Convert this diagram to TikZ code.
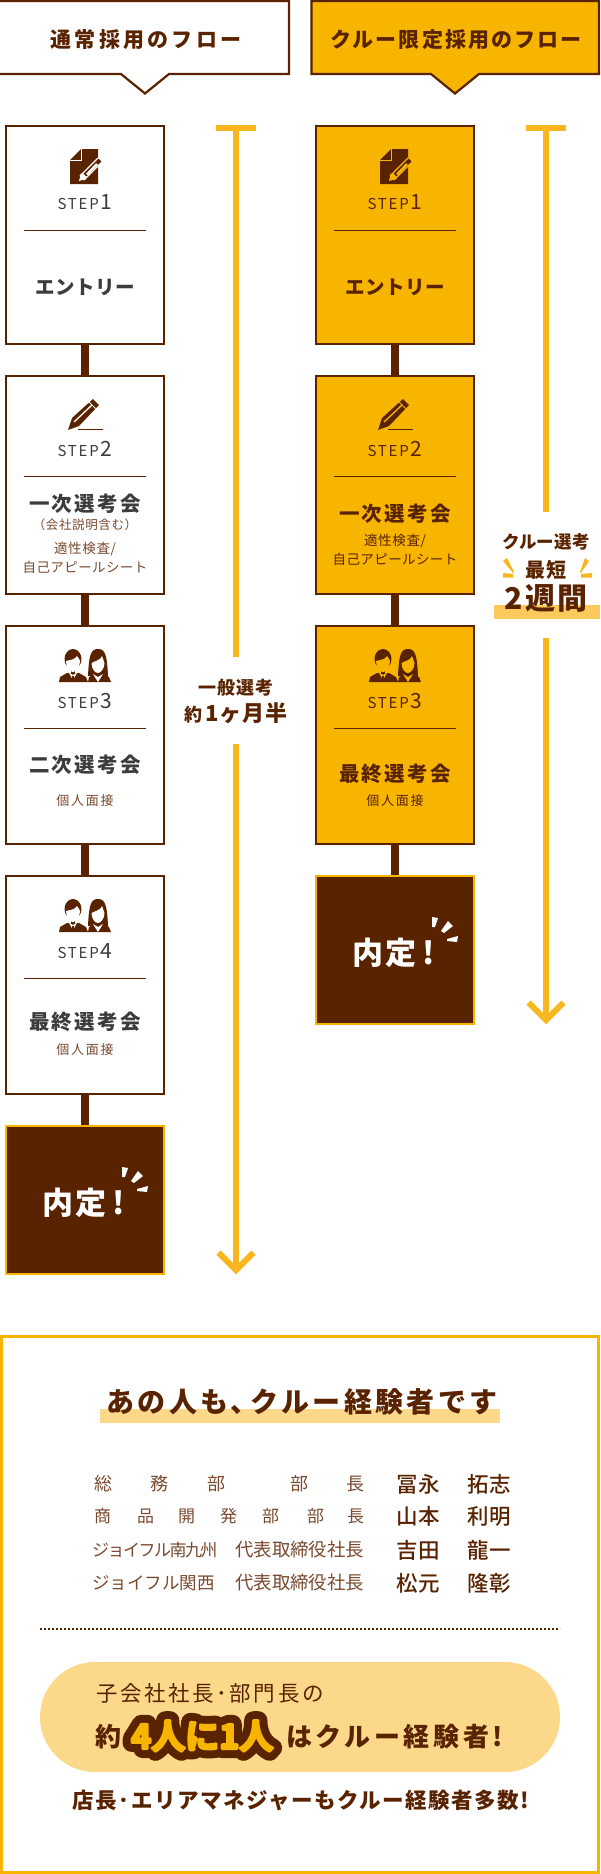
\documentclass[tikz,border=0pt]{standalone}
\usepackage{fontspec}
\setmainfont{Noto Sans CJK JP}
\newfontfamily\med{Noto Sans CJK JP Medium}
\newfontfamily\outl[FakeBold=55]{Noto Sans CJK JP Bold}
\newfontfamily\hvy[FakeBold=8]{Noto Sans CJK JP Bold}
\definecolor{brn}{HTML}{5A2300}
\definecolor{org}{HTML}{F7B500}
\definecolor{arw}{HTML}{FAB61E}
\definecolor{pale}{HTML}{FBD88A}
\definecolor{mid}{HTML}{FCC95B}
\definecolor{gry}{HTML}{3C3C3C}
\definecolor{sub}{HTML}{7A4A30}
\newcommand\tx[3]{{\fontsize{#1}{#1}\selectfont\addfontfeature{LetterSpace=#2}#3}}
\newcommand\stp[1]{\tx{15}{12}{STEP}\hspace{2pt}\tx{21}{0}{#1}}
\newcommand\docicon[3]{\begin{scope}[shift={(#1,#2)}]
 \fill[brn] (0,11)--(11,0)--(28,0)--(28,35)--(0,35)--cycle;
 \draw[#3,line width=1] (-.5,11.5)--(11.5,11.5)--(11.5,-.5);
 \draw[#3,line width=7] (12,29)--(30,11);
 \draw[brn,line width=4.2] (15,26)--(30,11);
 \fill[#3] (11,24)--(16,30)--(9,32)--cycle;
 \draw[#3,line width=2.4] (17,25.5)--(27,15);
\end{scope}}
\newcommand\penicon[3]{\begin{scope}[shift={(#1,#2)}]
 \fill[brn] (0,30)--(4,18)--(25,-1)--(31,5)--(11,26)--cycle;
 \draw[#3,line width=1.3] (6,22)--(24,5);
 \draw[#3,line width=.8] (21,2)--(27.5,8.5);
 \draw[brn,line width=1] (10,29.5)--(35,29.5);
\end{scope}}
\newcommand\ppl[3]{\begin{scope}[shift={(#1,#2)}]
 % man
 \fill[brn] (0,33)--(1,28)--(8,24)--(20,24)--(27,28)--(29,33)--cycle;
 \fill[brn] (14,10) circle[x radius=8.5,y radius=10];
 \fill[brn] (12,18) rectangle (16,26);
 \fill[#3] (7,12) .. controls (10,11) and (16,11) .. (18,7) .. controls (20,9) and (20.5,11) .. (21,12) .. controls (21,19) and (16.5,23) .. (14,23) .. controls (11,23) and (7,19) .. (7,12) -- cycle;
 \fill[#3] (9.5,23)--(14,31)--(18.5,23)--(14,26)--cycle;
 \fill[brn] (13,26.5)--(15,26.5)--(15,32)--(13,32)--cycle;
 % woman
 \fill[brn] (29,33)--(30,28)--(36,25)--(45,25)--(50,28)--(52,33)--cycle;
 \fill[brn] (29,27) .. controls (30,5) and (32,0) .. (39,0) .. controls (46,0) and (48,5) .. (49,27) -- cycle;
 \fill[#3] (32.5,14) .. controls (36,12) and (42,11) .. (43,7) .. controls (44,10) and (45,12) .. (45.5,14) .. controls (45.5,20) and (41.5,24) .. (39,24) .. controls (36,24) and (32.5,20) .. (32.5,14) -- cycle;
 \fill[#3] (34,25)--(39,33)--(44,25)--(39,28)--cycle;
\end{scope}}
\newcommand\spark[2]{\begin{scope}[shift={(#1,#2)}]
 \fill[white] (0,1)--(6,2)--(3,11)--(0,11)--cycle;
 \fill[white] (16,5)--(21,10)--(12,17)--(9,15)--cycle;
 \fill[white] (15,23)--(26,20)--(25,26)--(15,25)--cycle;
\end{scope}}
\tikzset{
 stepbox/.style={draw=brn,line width=2.4,fill=white,minimum width=157.6,minimum height=217.6,inner sep=0,outer sep=1.2},
 crewbox/.style={stepbox,fill=org},
 goalbox/.style={draw=org,line width=2.4,fill=brn,minimum width=157.6,minimum height=147.6,inner sep=0,outer sep=1.2},
 conn/.style={brn,line width=8},
 rule/.style={brn,line width=1},
 span/.style={arw,line width=6},
 lab/.style={inner sep=0,align=center,text=brn},
 dk/.style={lab,text=gry},
 sm/.style={lab,text=sub},
}
\begin{document}
\begin{tikzpicture}[x=1pt,y=-1pt]
\useasboundingbox (0,0) rectangle (600,1874);
% headers
\draw[brn,line width=2.2,fill=white] (0,1.1)--(288.9,1.1)--(288.9,74)--(169,74)--(145,93.5)--(121,74)--(0,74);
\draw[brn,line width=2.2,fill=org] (311.5,1.1)--(598.9,1.1)--(598.9,74)--(479,74)--(455,93.5)--(431,74)--(311.5,74)--cycle;
\node[lab,font=\bfseries] (h1) at (146,39.5) {\tx{21}{15.5}{通常採用のフロー}};
\node[lab,font=\bfseries] (h2) at (456,39.5) {\tx{21}{10}{クルー限定採用のフロー}};
% left boxes
\node[stepbox] (a1) at (85,235) {};
\node[stepbox] (a2) at (85,485) {};
\node[stepbox] (a3) at (85,735) {};
\node[stepbox] (a4) at (85,985) {};
\node[goalbox] (a5) at (85,1200) {};
\draw[conn] (a1)--(a2);
\draw[conn] (a2)--(a3);
\draw[conn] (a3)--(a4);
\draw[conn] (a4)--(a5);
% right boxes
\node[crewbox] (b1) at (395,235) {};
\node[crewbox] (b2) at (395,485) {};
\node[crewbox] (b3) at (395,735) {};
\node[goalbox] (b4) at (395,950) {};
\draw[conn] (b1)--(b2);
\draw[conn] (b2)--(b3);
\draw[conn] (b3)--(b4);
% left contents
\docicon{70}{149}{white}
\node[dk] (as1) at (85,202) {\stp{1}};
\draw[rule] (24,230)--(146,230);
\node[dk,font=\bfseries] (at1) at (85,287) {\tx{19.5}{3}{エントリー}};
\penicon{68}{400}{white}
\node[dk] (as2) at (85,449) {\stp{2}};
\draw[rule] (24,476)--(146,476);
\node[dk,font=\bfseries] (at2) at (85,504) {\tx{20.5}{11}{一次選考会}};
\node[sm] (ac2) at (85,525) {\tx{12.5}{5}{（会社説明含む）}};
\node[sm] (ad2) at (85,549) {\tx{13.5}{5}{適性検査/}};
\node[sm] (ae2) at (85,567) {\tx{13.5}{3}{自己アピールシート}};
\ppl{59}{649}{white}
\node[dk] (as3) at (85,701) {\stp{3}};
\draw[rule] (24,728)--(146,728);
\node[dk,font=\bfseries] (at3) at (85,765) {\tx{20.5}{11}{二次選考会}};
\node[sm] (ad3) at (85,801) {\tx{13}{14}{個人面接}};
\ppl{59}{899}{white}
\node[dk] (as4) at (85,951) {\stp{4}};
\draw[rule] (24,978)--(146,978);
\node[dk,font=\bfseries] (at4) at (85,1022) {\tx{20.5}{11}{最終選考会}};
\node[sm] (ad4) at (85,1050) {\tx{13}{14}{個人面接}};
\node[lab,text=white,font=\bfseries,anchor=west] (an) at (42,1203) {\tx{31}{8}{内定\hspace{6pt}!}};
\spark{122}{1166}
% right contents
\docicon{380}{149}{org}
\node[lab] (bs1) at (395,202) {\stp{1}};
\draw[rule] (334,230)--(456,230);
\node[lab,font=\bfseries] (bt1) at (395,287) {\tx{19.5}{3}{エントリー}};
\penicon{378}{400}{org}
\node[lab] (bs2) at (395,449) {\stp{2}};
\draw[rule] (334,476)--(456,476);
\node[lab,font=\bfseries] (bt2) at (395,514) {\tx{20.5}{11}{一次選考会}};
\node[lab] (bd2) at (395,541) {\tx{13.5}{5}{適性検査/}};
\node[lab] (be2) at (395,559) {\tx{13.5}{3}{自己アピールシート}};
\ppl{369}{649}{org}
\node[lab] (bs3) at (395,701) {\stp{3}};
\draw[rule] (334,728)--(456,728);
\node[lab,font=\bfseries] (bt3) at (395,774) {\tx{20.5}{11}{最終選考会}};
\node[lab] (bd3) at (395,801) {\tx{13}{14}{個人面接}};
\node[lab,text=white,font=\bfseries,anchor=west] (bn) at (352,953) {\tx{31}{8}{内定\hspace{6pt}!}};
\spark{432}{916}
% left span arrow
\coordinate (l0) at (236,125);
\coordinate (l1) at (236,657);
\coordinate (l2) at (236,744);
\coordinate (l3) at (236,1270);
\coordinate (lb1) at (216,127.5);
\coordinate (lb2) at (256,127.5);
\coordinate (lh1) at (218.5,1252.5);
\coordinate (lh2) at (253.5,1252.5);
\draw[span] (l0)--(l1);
\draw[span] (l2)--(l3);
\draw[span] (lb1)--(lb2);
\draw[span,line join=miter] (lh1)--(l3)--(lh2);
\node[lab,font=\bfseries] (lt1) at (236,688) {\tx{18}{4}{一般選考}};
\node[lab,font=\bfseries] (lt2) at (236,713) {\tx{18}{0}{約}\hspace{3pt}\tx{22}{4}{1ヶ月半}};
% right span arrow
\coordinate (r0) at (546,125);
\coordinate (r1) at (546,512);
\coordinate (r2) at (546,638);
\coordinate (r3) at (546,1020);
\coordinate (rb1) at (526,127.5);
\coordinate (rb2) at (566,127.5);
\coordinate (rh1) at (528.5,1002.5);
\coordinate (rh2) at (563.5,1002.5);
\draw[span] (r0)--(r1);
\draw[span] (r2)--(r3);
\draw[span] (rb1)--(rb2);
\draw[span,line join=miter] (rh1)--(r3)--(rh2);
\fill[mid] (494,605) rectangle (600,619);
\node[lab,font=\bfseries] (rt1) at (546,542) {\tx{17.5}{1}{クルー選考}};
\node[lab,font=\bfseries] (rt2) at (546,570) {\tx{20}{8}{最短}};
\node[lab,font=\bfseries] (rt3) at (546,598) {\tx{30}{8}{2週間}};
\fill[arw] (503,561)--(507,558)--(514,572)--(513,573)--cycle;
\fill[arw] (503,573)--(513,574)--(513,577.5)--(503,577.5)--cycle;
\fill[arw] (589,561)--(585,558)--(580,572)--(581,573)--cycle;
\fill[arw] (592,573)--(581,574)--(581,577.5)--(592,577.5)--cycle;
% panel
\draw[org,line width=3,fill=white] (1.5,1336.5)rectangle(598.5,1872.5);
\fill[pale] (100,1409) rectangle (500,1423);
\node[lab,font=\bfseries] (t0) at (302,1402) {\tx{28}{12}{あの人も、\hspace{-8pt}クルー経験者です}};
\node[sm,anchor=west] (r1a) at (94,1484) {\tx{18}{0}{総\hspace{38pt}務\hspace{39pt}部\hspace{65pt}部\hspace{38pt}長}};
\node[sm,anchor=west] (r2a) at (94,1516) {\tx{17}{0}{商\hspace{26pt}品\hspace{24pt}開\hspace{25pt}発\hspace{25pt}部\hspace{28pt}部\hspace{23pt}長}};
\node[sm,anchor=west] (r3a) at (92,1550) {\tx{17}{-9}{ジョイフル南九州}};
\node[sm,anchor=west] (r4a) at (92,1583) {\tx{17.5}{0}{ジョイフル関西}};
\node[sm,anchor=west] (r3b) at (235,1550) {\tx{18.4}{0}{代表取締役社長}};
\node[sm,anchor=west] (r4b) at (235,1583) {\tx{18.4}{0}{代表取締役社長}};
\foreach \nm/\ya/\aa/\bb in {n1/1484/冨永/拓志,n2/1516/山本/利明,n3/1550/吉田/龍一,n4/1583/松元/隆彰}{
 \node[lab,font=\med,anchor=west] (\nm a) at (396,\ya) {\tx{21.5}{3}{\aa}};
 \node[lab,font=\med,anchor=west] (\nm b) at (467,\ya) {\tx{21.5}{3}{\bb}};
}
\coordinate (d1) at (40,1629);
\coordinate (d2) at (560,1629);
\draw[brn,line width=2,dash pattern=on 2pt off 2pt] (d1)--(d2);
\node[fill=pale,rounded corners=55,minimum width=520,minimum height=110,inner sep=0] (pill) at (300,1717) {};
\node[lab,anchor=west] (p1) at (96,1693) {\tx{21.5}{12}{子会社社長･部門長の}};
\node[lab,anchor=west,font=\bfseries] (p2) at (95,1737) {\tx{26}{0}{約}};
\begin{scope}[line join=round,line cap=round,miter limit=1]
\node[lab,anchor=west,text=brn,line join=round] (p3o) at (131,1736) {\outl\tx{34}{0}{4人に1人}};
\node[lab,anchor=west,text=org,line join=round] (p3) at (131,1736) {\hvy\tx{34}{0}{4人に1人}};
\end{scope}
\node[lab,anchor=west,font=\bfseries] (p4) at (286,1737) {\tx{26}{14}{はクルー経験者!}};
\node[lab,font=\bfseries] (p5) at (301,1800) {\tx{21.5}{7}{店長･エリアマネジャーもクルー経験者多数!}};
\end{tikzpicture}
\end{document}
